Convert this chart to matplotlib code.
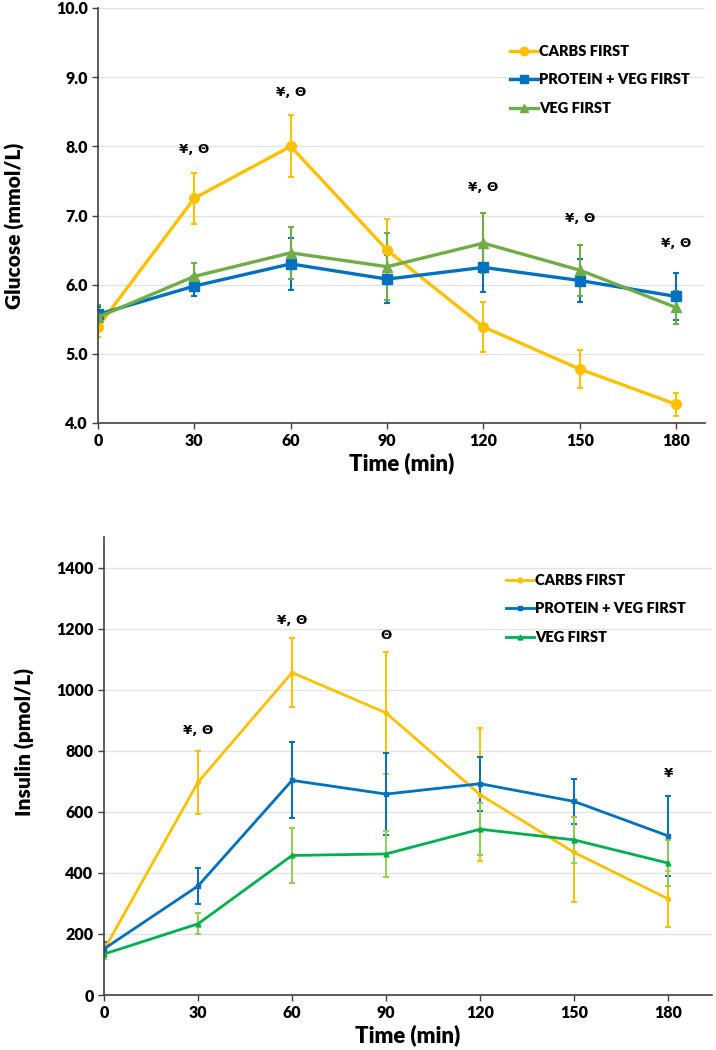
import matplotlib
matplotlib.use("Agg")
import matplotlib.pyplot as plt
from matplotlib.lines import Line2D
import numpy as np

# time points (min)
time = [0, 30, 60, 90, 120, 150, 180]
series_names = ["CARBS FIRST", "PROTEIN + VEG FIRST", "VEG FIRST"]

# glucose, mmol/L (mean and error)
glu_carbs = [5.39, 7.25, 8.00, 6.50, 5.39, 4.78, 4.27]
glu_carbs_err = [0.15, 0.37, 0.45, 0.45, 0.36, 0.28, 0.17]
glu_prot = [5.57, 5.98, 6.30, 6.08, 6.25, 6.06, 5.83]
glu_prot_err = [0.10, 0.14, 0.37, 0.35, 0.35, 0.31, 0.34]
glu_veg = [5.53, 6.12, 6.46, 6.26, 6.60, 6.21, 5.67]
glu_veg_err = [0.18, 0.20, 0.38, 0.48, 0.43, 0.37, 0.24]

# insulin, pmol/L (mean and error)
ins_carbs = [148, 697, 1056, 924, 656, 467, 315]
ins_carbs_err = [20, 103, 112, 200, 217, 163, 91]
ins_prot = [151, 357, 703, 658, 692, 634, 521]
ins_prot_err = [22, 58, 124, 135, 89, 73, 131]
ins_veg = [134, 233, 457, 462, 543, 508, 432]
ins_veg_err = [15, 34, 91, 75, 86, 75, 75]

# significance marks
glu_sig_t = [30, 60, 120, 150, 180]
glu_sig_y = [7.95, 8.78, 7.41, 6.96, 6.59]
glu_sig_txt = ["¥, Θ", "¥, Θ", "¥, Θ", "¥, Θ", "¥, Θ"]
ins_sig_t = [30, 60, 90, 180]
ins_sig_y = [865, 1228, 1177, 727]
ins_sig_txt = ["¥, Θ", "¥, Θ", "Θ", "¥"]

YELLOW = "#FFC000"
BLUE = "#0070C0"
GREEN_T = "#70AD47"
GREEN_B = "#00B050"
GREEN_ERR = "#92D050"

plt.rcParams['font.family'] = ['Lato', 'DejaVu Sans']
plt.rcParams['font.weight'] = 'bold'

fig = plt.figure(figsize=(7.16, 10.5), dpi=100)
ax1 = fig.add_axes([98/716, 1-423/1050, 607/716, 415/1050])
ax2 = fig.add_axes([104/716, 1-995/1050, 608/716, 458/1050])


def style_axis(ax):
    for s in ["top", "right"]:
        ax.spines[s].set_visible(False)
    for s in ["left", "bottom"]:
        ax.spines[s].set_color("#404040")
        ax.spines[s].set_linewidth(1.2)
    ax.yaxis.grid(True, color="#E3E3E3", linewidth=1)
    ax.set_axisbelow(True)
    ax.tick_params(axis="both", labelsize=11.5, length=4, width=1, color="#404040",
                   direction="out")
    for lab in ax.get_xticklabels() + ax.get_yticklabels():
        lab.set_fontweight("heavy")


def legend_handles(colors, markers, lw, ms):
    return [Line2D([], [], color=c, marker=m, lw=lw, ms=ms) for c, m in zip(colors, markers)]


# --- glucose panel ---
ax1.errorbar(time, glu_carbs, yerr=glu_carbs_err, color=YELLOW, marker="o", ms=7,
             lw=2.4, elinewidth=1.5, capsize=2, capthick=1.5)
ax1.errorbar(time, glu_prot, yerr=glu_prot_err, color=BLUE, marker="s", ms=6.5,
             lw=2.4, elinewidth=1.5, capsize=2, capthick=1.5)
ax1.errorbar(time, glu_veg, yerr=glu_veg_err, color=GREEN_T, marker="^", ms=6.5,
             lw=2.4, elinewidth=1.5, capsize=2, capthick=1.5)
for t, y, s in zip(glu_sig_t, glu_sig_y, glu_sig_txt):
    ax1.text(t, y, s, ha="center", va="center", fontsize=9.5, fontweight="bold",
             family=["DejaVu Sans"])
ax1.set_xlim(0, 189)
ax1.set_ylim(4.0, 10.0)
ax1.set_xticks(time)
ax1.set_yticks(np.arange(4.0, 10.01, 1.0))
ax1.set_yticklabels([f"{v:.1f}" for v in np.arange(4.0, 10.01, 1.0)])
style_axis(ax1)
ax1.set_xlabel("Time (min)", fontsize=16, fontweight="heavy", labelpad=2)
ax1.set_ylabel("Glucose (mmol/L)", fontsize=15, fontweight="heavy")
ax1.yaxis.set_label_coords(-0.120, 0.475)
ax1.legend(legend_handles([YELLOW, BLUE, GREEN_T], ["o", "s", "^"], 2.4, 6),
           series_names, loc="upper left", bbox_to_anchor=(510/716, 1-45/1050),
           bbox_transform=fig.transFigure, frameon=False,
           handlelength=1.9, handletextpad=0.1, labelspacing=1.05,
           borderpad=0, borderaxespad=0, prop={"weight": "heavy", "size": 10.5})

# --- insulin panel ---
ax2.errorbar(time, ins_carbs, yerr=ins_carbs_err, color=YELLOW, marker="o", ms=3,
             lw=2.0, elinewidth=1.4, capsize=2, capthick=1.4)
ax2.errorbar(time, ins_prot, yerr=ins_prot_err, color=BLUE, marker="s", ms=3.5,
             lw=2.0, elinewidth=1.4, ecolor=BLUE, capsize=2, capthick=1.4)
ax2.errorbar(time, ins_veg, yerr=ins_veg_err, color=GREEN_B, marker="^", ms=3.5,
             lw=2.0, elinewidth=1.4, ecolor=GREEN_ERR, capsize=2, capthick=1.4)
for t, y, s in zip(ins_sig_t, ins_sig_y, ins_sig_txt):
    ax2.text(t, y, s, ha="center", va="center", fontsize=9.5, fontweight="bold",
             family=["DejaVu Sans"])
ax2.set_xlim(0, 194)
ax2.set_ylim(0, 1500)
ax2.set_xticks(time)
ax2.set_yticks(np.arange(0, 1401, 200))
style_axis(ax2)
ax2.set_xlabel("Time (min)", fontsize=16, fontweight="heavy", labelpad=2)
ax2.set_ylabel("Insulin (pmol/L)", fontsize=15, fontweight="heavy")
ax2.yaxis.set_label_coords(-0.113, 0.552)
ax2.legend(legend_handles([YELLOW, BLUE, GREEN_B], ["o", "s", "^"], 2.0, 3.5),
           series_names, loc="upper left", bbox_to_anchor=(506/716, 1-574/1050),
           bbox_transform=fig.transFigure, frameon=False,
           handlelength=1.9, handletextpad=0.1, labelspacing=1.05,
           borderpad=0, borderaxespad=0, prop={"weight": "heavy", "size": 10.5})

fig.savefig("out.png", dpi=100, facecolor="white")
